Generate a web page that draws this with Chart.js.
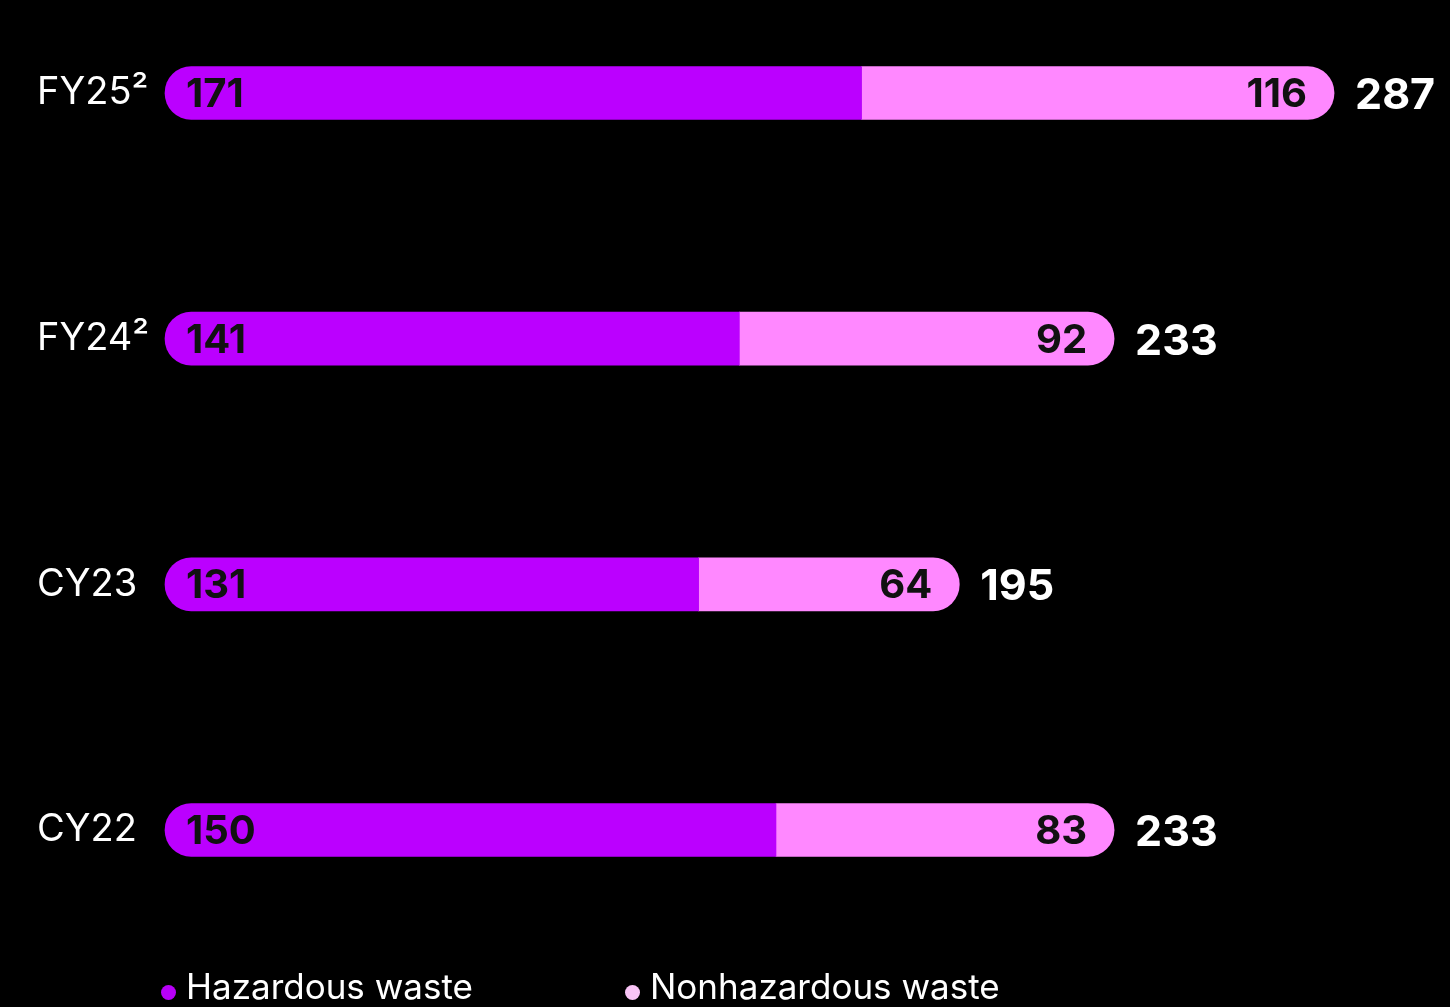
<!DOCTYPE html>
<html>
<head>
<meta charset="utf-8">
<script src="https://cdn.jsdelivr.net/npm/chart.js@4/dist/chart.umd.min.js"></script>
<style>
  html, body { margin: 0; padding: 0; background: #000; overflow: hidden; }
  #wrap { position: relative; width: 1450px; height: 1007px; }
  .legend { position: absolute; top: 966px; font-family: Inter, sans-serif; font-size: 35px; color: #fff; line-height: 40px; white-space: nowrap; }
  .legend .dot { display: inline-block; width: 15px; height: 15px; border-radius: 50%; margin-right: 10px; vertical-align: -1px; }
</style>
</head>
<body>
<div id="wrap">
  <canvas id="waste_chart" width="1450" height="1007"></canvas>
  <div class="legend" style="left:161px"><span class="dot" style="background:#b800f8"></span>Hazardous waste</div>
  <div class="legend" style="left:625px"><span class="dot" style="background:#f9c4f6"></span>Nonhazardous waste</div>
</div>
<script>
// ── data ─────────────────────────────────────────────
const categories   = ["FY25²", "FY24²", "CY23", "CY22"];
const hazardous    = [171, 141, 131, 150];
const nonhazardous = [116, 92, 64, 83];
const seriesNames  = ["Hazardous waste", "Nonhazardous waste"];

const CLR_HAZ    = "#bb00ff";
const CLR_NONHAZ = "#ff88ff";
const FONT       = "Inter, sans-serif";

// ── labels inside/after bars ─────────────────────────
const valueLabels = {
  id: "valueLabels",
  afterDatasetsDraw(chart) {
    const c = chart.ctx;
    const m0 = chart.getDatasetMeta(0);
    const m1 = chart.getDatasetMeta(1);
    c.save();
    c.textBaseline = "middle";
    categories.forEach((cat, i) => {
      const b0 = m0.data[i];
      const b1 = m1.data[i];
      const y = b0.y + 2;

      c.font = `bold 40px ${FONT}`;
      c.fillStyle = "#111";
      c.textAlign = "left";
      c.fillText(String(hazardous[i]), b0.base + 21, y);

      c.textAlign = "right";
      c.fillText(String(nonhazardous[i]), b1.x - 27, y);

      c.font = `bold 43px ${FONT}`;
      c.fillStyle = "#fff";
      c.textAlign = "left";
      c.fillText(String(hazardous[i] + nonhazardous[i]), b1.x + 21, y + 1);
    });
    c.restore();
  },
};

const ctx = document.getElementById("waste_chart").getContext("2d");
new Chart(ctx, {
  type: "bar",
  data: {
    labels: categories,
    datasets: [
      {
        label: seriesNames[0],
        data: hazardous,
        backgroundColor: CLR_HAZ,
        barThickness: 53,
        borderSkipped: false,
        borderRadius: { topLeft: 27, bottomLeft: 27, topRight: 0, bottomRight: 0 },
        clip: false,
      },
      {
        label: seriesNames[1],
        data: nonhazardous,
        backgroundColor: CLR_NONHAZ,
        barThickness: 53,
        borderSkipped: false,
        borderRadius: { topLeft: 0, bottomLeft: 0, topRight: 27, bottomRight: 27 },
        clip: false,
      },
    ],
  },
  options: {
    indexAxis: "y",
    responsive: false,
    animation: false,
    layout: { padding: { left: 37, right: 63, top: 93, bottom: 177 } },
    plugins: {
      legend: { display: false },
      tooltip: { enabled: false },
    },
    scales: {
      x: {
        stacked: true,
        min: 0,
        max: 300,
        display: false,
      },
      y: {
        stacked: true,
        offset: false,
        grid: { display: false },
        border: { display: false },
        afterFit: (s) => { s.width = 128; },
        ticks: {
          crossAlign: "far",
          color: "#fff",
          font: { family: FONT, size: 38 },
          padding: 0,
        },
      },
    },
  },
  plugins: [valueLabels],
});
</script>
</body>
</html>
